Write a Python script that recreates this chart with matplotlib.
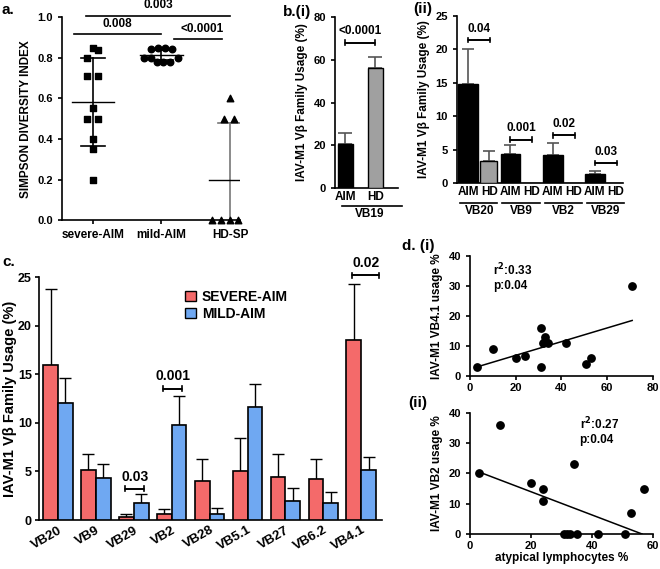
import numpy as np
import matplotlib
matplotlib.use("Agg")
import matplotlib.pyplot as plt
from matplotlib.patches import Patch

plt.rcParams['font.family'] = ['Liberation Sans', 'DejaVu Sans']
plt.rcParams['font.weight'] = 'bold'
plt.rcParams['axes.labelweight'] = 'bold'
plt.rcParams['axes.linewidth'] = 1.2
plt.rcParams['xtick.major.width'] = 1.2
plt.rcParams['ytick.major.width'] = 1.2
plt.rcParams['xtick.major.size'] = 3
plt.rcParams['ytick.major.size'] = 3

# --- a. Simpson diversity index ---
a_groups = ['severe-AIM', 'mild-AIM', 'HD-SP']
severe_y = [0.85, 0.84, 0.80, 0.71, 0.71, 0.55, 0.50, 0.50, 0.40, 0.35, 0.20]
severe_dx = [0.0, 0.08, -0.08, -0.08, 0.08, 0.0, -0.08, 0.08, 0.0, 0.0, 0.0]
mild_y = [0.845, 0.85, 0.85, 0.845, 0.80, 0.80, 0.78, 0.78, 0.78, 0.80]
mild_dx = [-0.15, -0.05, 0.05, 0.15, -0.26, -0.15, -0.06, 0.03, 0.12, 0.24]
hd_y = [0.60, 0.50, 0.50, 0.0, 0.0, 0.0, 0.0]
hd_dx = [0.0, -0.09, 0.06, -0.26, -0.13, 0.0, 0.12]
a_mean = [0.58, 0.815, 0.20]
a_low = [0.365, 0.79, 0.0]
a_high = [0.80, 0.84, 0.48]

# --- b(i) VB19 ---
bi_labels = ['AIM', 'HD']
bi_vals = [20.5, 56.0]
bi_err = [5.3, 5.5]

# --- b(ii) ---
bii_groups = ['VB20', 'VB9', 'VB2', 'VB29']
bii_aim = [14.8, 4.4, 4.2, 1.3]
bii_aim_err = [5.2, 1.3, 1.8, 0.5]
bii_hd = [3.3, 0.05, 0.05, 0.05]
bii_hd_err = [1.5, 0.0, 0.0, 0.0]
bii_p = ['0.04', '0.001', '0.02', '0.03']
bii_p_y = [21.4, 6.5, 7.15, 3.0]

# --- c. severe vs mild ---
c_groups = ['VB20', 'VB9', 'VB29', 'VB2', 'VB28', 'VB5.1', 'VB27', 'VB6.2', 'VB4.1']
c_severe = [16.0, 5.1, 0.3, 0.6, 4.0, 5.0, 4.4, 4.2, 18.5]
c_severe_err = [7.8, 1.7, 0.3, 0.5, 2.3, 3.4, 2.4, 2.1, 5.8]
c_mild = [12.0, 4.3, 1.75, 9.8, 0.6, 11.6, 2.0, 1.75, 5.1]
c_mild_err = [2.6, 1.5, 0.95, 3.0, 0.6, 2.4, 1.3, 1.1, 1.4]

# --- d. correlations ---
di_x = [3, 10, 20, 24, 31, 31, 32, 33, 33, 34, 42, 51, 53, 71]
di_y = [3, 9, 6, 6.5, 16, 3, 11, 13, 11.5, 11, 11, 4, 6, 30]
di_fit_x = [3, 71]
di_fit_y = [3.0, 18.5]
dii_x = [3, 10, 20, 24, 24, 31, 32, 33, 34, 35, 42, 51, 53, 57]
dii_y = [20, 36, 17, 15, 11, 0, 0, 0, 23, 0, 0, 0, 7, 15]
dii_fit_x = [3, 56.5]
dii_fit_y = [20.5, 0.0]

red = '#F46A6A'
blue = '#6FA8F2'
grey = '#A0A0A0'


def style(ax):
    ax.spines['top'].set_visible(False)
    ax.spines['right'].set_visible(False)
    ax.tick_params(labelsize=8)


def bracket(ax, x1, x2, y, txt, h, fs=8.5):
    ax.plot([x1, x1, x2, x2], [y - h, y, y, y - h], color='black', lw=1.2, clip_on=False)
    ax.plot([x1, x1, x2, x2], [y + h, y, y, y + h], color='black', lw=1.2, clip_on=False)
    ax.text((x1 + x2) / 2, y + 2.2 * h, txt, ha='center', va='bottom', fontsize=fs)


fig = plt.figure(figsize=(6.6, 5.69), dpi=100)

# ---------- a ----------
ax = fig.add_axes([0.094, 0.613, 0.27, 0.357])
style(ax)
ax.scatter(np.array(severe_dx) + 0, severe_y, marker='s', s=22, color='black', zorder=3)
ax.scatter(np.array(mild_dx) + 1, mild_y, marker='o', s=22, color='black', zorder=3)
ax.scatter(np.array(hd_dx) + 2, hd_y, marker='^', s=22, color='black', zorder=3, clip_on=False)
for i in range(3):
    c = '#777777' if i == 2 else 'black'
    ax.plot([i, i], [a_low[i], a_high[i]], color=c, lw=1.2)
    ax.plot([i - 0.17, i + 0.17], [a_high[i], a_high[i]], color=c, lw=1.2)
    if i < 2:
        ax.plot([i - 0.17, i + 0.17], [a_low[i], a_low[i]], color=c, lw=1.2)
    ax.plot([i - 0.31, i + 0.31], [a_mean[i], a_mean[i]], color='black', lw=1.0)
ax.set_xlim(-0.45, 2.15)
ax.set_ylim(0, 1.0)
ax.set_xticks(range(3))
ax.set_xticklabels(a_groups, fontsize=8.5)
ax.set_yticks([0, 0.2, 0.4, 0.6, 0.8, 1.0])
ax.set_yticklabels(['0.0', '0.2', '0.4', '0.6', '0.8', '1.0'])
ax.set_ylabel('SIMPSON DIVERSITY INDEX', fontsize=8.5)
ax.plot([-0.1, 2.0], [1.006, 1.006], color='black', lw=1.2, clip_on=False)
ax.text(0.95, 1.03, '0.003', ha='center', va='bottom', fontsize=8.5)
ax.plot([-0.28, 1.0], [0.916, 0.916], color='black', lw=1.2)
ax.text(0.36, 0.935, '0.008', ha='center', va='bottom', fontsize=8.5)
ax.plot([1.18, 1.88], [0.89, 0.89], color='black', lw=1.2)
ax.text(1.6, 0.91, '<0.0001', ha='center', va='bottom', fontsize=8.5)

# ---------- b(i) ----------
ax = fig.add_axes([0.5076, 0.6696, 0.095, 0.3005])
style(ax)
ax.bar([0, 1], bi_vals, width=0.5, color=['black', grey], edgecolor='black', lw=1, zorder=3)
ax.errorbar([0, 1], bi_vals, yerr=[[0, 0], bi_err], fmt='none', ecolor='#555555',
            elinewidth=1.2, capsize=5, capthick=1.2, zorder=2)
ax.set_xlim(-0.35, 1.75)
ax.set_ylim(0, 80)
ax.set_yticks([0, 20, 40, 60, 80])
ax.set_xticks([0, 1])
ax.set_xticklabels(bi_labels, fontsize=8.5)
ax.tick_params(axis='x', length=0, pad=2)
ax.set_ylabel('IAV-M1 V\u03b2 Family Usage (%)', fontsize=8.5)
bracket(ax, 0, 1, 68, '<0.0001', 1.2)
ax.plot([-0.1, 1.9], [-0.105, -0.105], color='black', lw=1.2,
        transform=ax.get_xaxis_transform(), clip_on=False)
ax.text(0.8, -0.115, 'VB19', transform=ax.get_xaxis_transform(),
        ha='center', va='top', fontsize=8.5)

# ---------- b(ii) ----------
ax = fig.add_axes([0.6924, 0.6784, 0.2515, 0.2935])
style(ax)
gx = np.arange(len(bii_groups))
ax.bar(gx - 0.24, bii_aim, width=0.47, color='black', edgecolor='black', lw=1, zorder=3)
ax.bar(gx + 0.24, bii_hd, width=0.42, color=grey, edgecolor='black', lw=1, zorder=3)
ax.errorbar(gx - 0.24, bii_aim, yerr=[np.zeros(4), bii_aim_err], fmt='none',
            ecolor='#555555', elinewidth=1.2, capsize=4, capthick=1.2, zorder=2)
ax.errorbar(gx[:1] + 0.24, bii_hd[:1], yerr=[[0], bii_hd_err[:1]], fmt='none',
            ecolor='#555555', elinewidth=1.2, capsize=4, capthick=1.2, zorder=2)
ax.set_xlim(-0.51, 3.43)
ax.set_ylim(0, 25)
ax.set_yticks([0, 5, 10, 15, 20, 25])
ax.set_xticks(np.concatenate([gx - 0.24, gx + 0.26]))
ax.set_xticklabels(['AIM'] * 4 + ['HD'] * 4, fontsize=8.5)
ax.tick_params(axis='x', length=0, pad=2)
ax.set_ylabel('IAV-M1 V\u03b2 Family Usage (%)', fontsize=8.5)
for i in range(4):
    bracket(ax, i - 0.24, i + 0.28, bii_p_y[i], bii_p[i], 0.35)
    ax.plot([i - 0.43, i + 0.45], [-0.12, -0.12], color='black', lw=1.2,
            transform=ax.get_xaxis_transform(), clip_on=False)
    ax.text(i + 0.02, -0.13, bii_groups[i], transform=ax.get_xaxis_transform(),
            ha='center', va='top', fontsize=8.5)

# ---------- c ----------
ax = fig.add_axes([0.059, 0.0861, 0.52, 0.427])
style(ax)
cx = np.arange(len(c_groups))
w = 0.39
ax.bar(cx - w / 2, c_severe, width=w, color=red, edgecolor='black', lw=1.2, zorder=3)
ax.bar(cx + w / 2, c_mild, width=w, color=blue, edgecolor='black', lw=1.2, zorder=3)
ax.errorbar(cx - w / 2, c_severe, yerr=[np.zeros(9), c_severe_err], fmt='none',
            ecolor='black', elinewidth=1.0, capsize=4, capthick=1.0, zorder=2, clip_on=False)
ax.errorbar(cx + w / 2, c_mild, yerr=[np.zeros(9), c_mild_err], fmt='none',
            ecolor='black', elinewidth=1.0, capsize=4, capthick=1.0, zorder=2)
ax.set_xlim(-0.5, 8.55)
ax.set_ylim(0, 25)
ax.set_yticks([0, 5, 10, 15, 20, 25])
ax.tick_params(axis='y', labelsize=9, pad=2)
ax.set_xticks(cx)
ax.set_xticklabels(c_groups, rotation=30, ha='right', rotation_mode='anchor', fontsize=9.5)
ax.tick_params(axis='x', length=0, pad=3)
ax.set_ylabel('IAV-M1 V\u03b2 Family Usage (%)', fontsize=10.5, labelpad=1)
bracket(ax, 2 - 0.22, 2 + 0.28, 3.2, '0.03', 0.25, fs=10)
bracket(ax, 3 - 0.22, 3 + 0.28, 13.5, '0.001', 0.25, fs=10)
bracket(ax, 8 - 0.25, 8 + 0.48, 25.2, '0.02', 0.25, fs=10)
handles = [Patch(facecolor=red, edgecolor='black', label='SEVERE-AIM'),
           Patch(facecolor=blue, edgecolor='black', label='MILD-AIM')]
ax.legend(handles=handles, loc='upper left', bbox_to_anchor=(0.41, 0.97), frameon=False,
          fontsize=10, handlelength=0.8, handleheight=0.8, handletextpad=0.4,
          labelspacing=0.2, borderaxespad=0)

# ---------- d(i) ----------
ax = fig.add_axes([0.712, 0.3392, 0.277, 0.211])
style(ax)
ax.scatter(di_x, di_y, s=28, color='black', zorder=3)
ax.plot(di_fit_x, di_fit_y, color='black', lw=1.1)
ax.set_xlim(0, 80)
ax.set_ylim(0, 40)
ax.set_xticks([0, 20, 40, 60, 80])
ax.set_yticks([0, 10, 20, 30, 40])
ax.tick_params(axis='x', pad=2)
ax.set_ylabel('IAV-M1 VB4.1 usage %', fontsize=8.5)
ax.text(10, 33, 'r$^{\\mathbf{2}}$:0.33\np:0.04', fontsize=8.5, va='center', ha='left')

# ---------- d(ii) ----------
ax = fig.add_axes([0.712, 0.0615, 0.277, 0.2127])
style(ax)
ax.scatter(dii_x, dii_y, s=28, color='black', zorder=3, clip_on=False)
ax.plot(dii_fit_x, dii_fit_y, color='black', lw=1.1)
ax.set_xlim(0, 60)
ax.set_ylim(0, 40)
ax.set_xticks([0, 20, 40, 60])
ax.set_yticks([0, 10, 20, 30, 40])
ax.tick_params(axis='x', pad=2)
ax.set_ylabel('IAV-M1 VB2 usage %', fontsize=8.5)
ax.set_xlabel('atypical lymphocytes %', fontsize=8.5, labelpad=1)
ax.text(36, 34, 'r$^{\\mathbf{2}}$:0.27\np:0.04', fontsize=8.5, va='center', ha='left')

# ---------- panel letters ----------
fig.text(0.003, 0.983, 'a.', fontsize=11, va='center')
fig.text(0.429, 0.979, 'b.(i)', fontsize=11, va='center')
fig.text(0.626, 0.985, '(ii)', fontsize=11, va='center')
fig.text(0.003, 0.54, 'c.', fontsize=11, va='center')
fig.text(0.609, 0.568, 'd. (i)', fontsize=11, va='center')
fig.text(0.618, 0.292, '(ii)', fontsize=11, va='center')

fig.savefig('out.png', dpi=100)
